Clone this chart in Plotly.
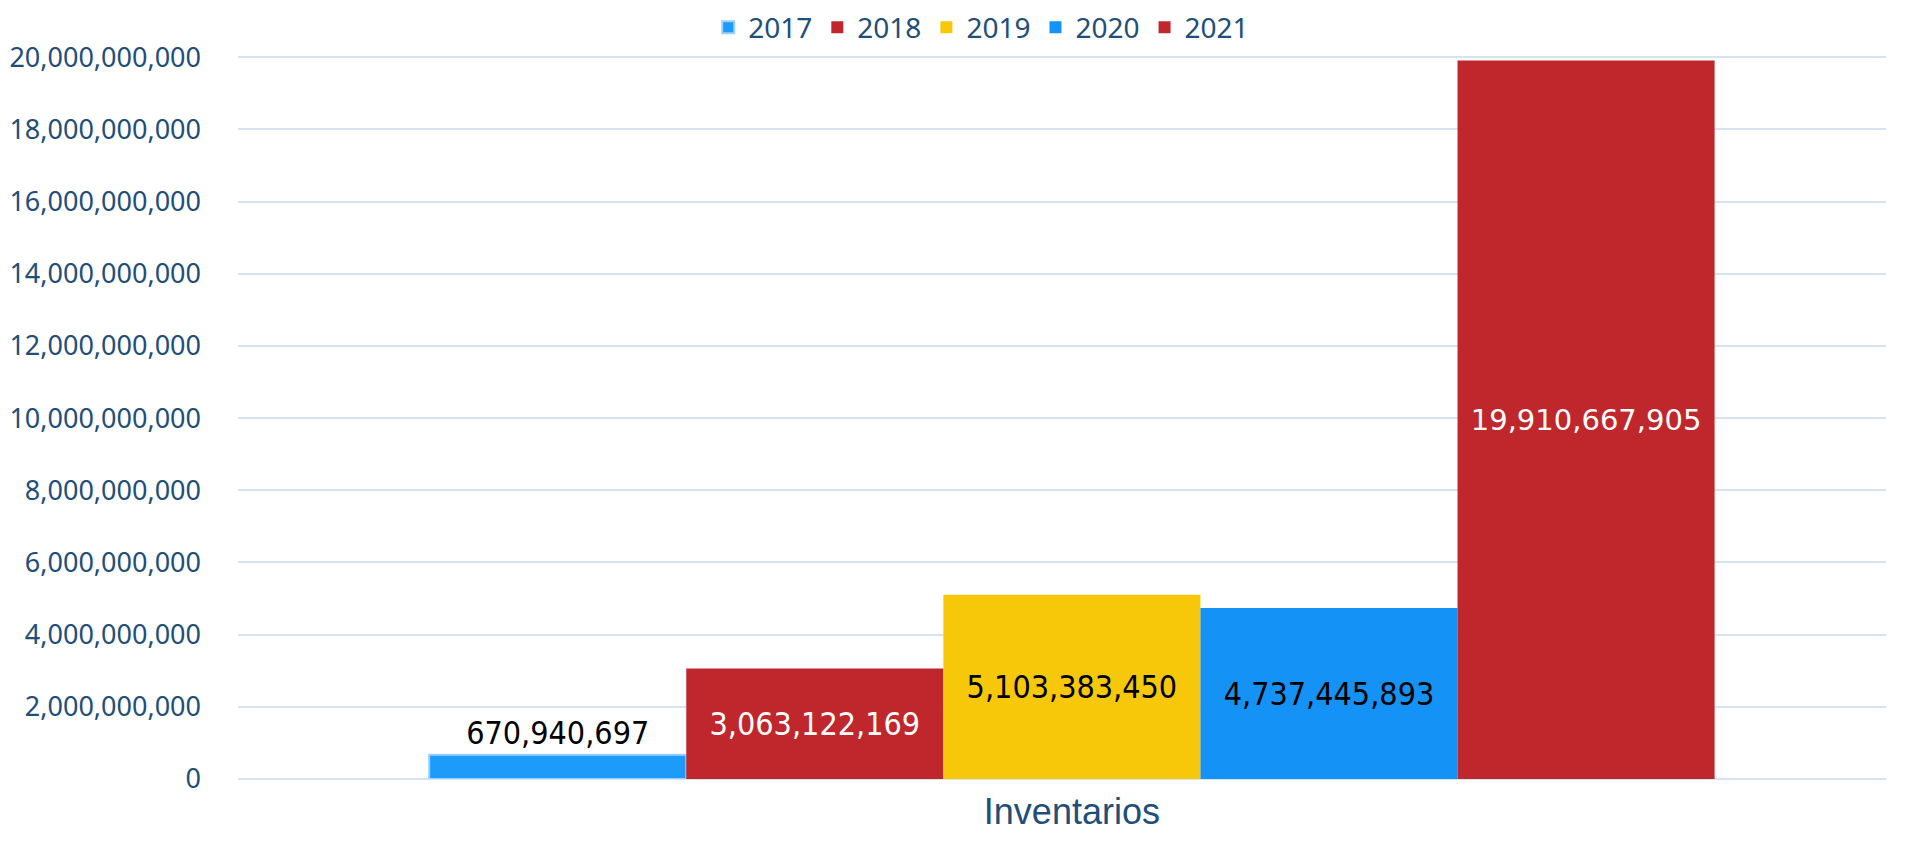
import plotly.graph_objects as go

# data
category = ["Inventarios"]
years = ["2017", "2018", "2019", "2020", "2021"]
values = [670940697, 3063122169, 5103383450, 4737445893, 19910667905]
colors = ["#1C9BFB", "#C0272D", "#F7C80A", "#1592F5", "#C0272D"]
text_colors = ["black", "white", "black", "black", "white"]
text_sizes = [32, 32, 32, 32, 29]

tick_vals = [i * 2000000000 for i in range(11)]

fig = go.Figure()
for i, yr in enumerate(years):
    fam = "DejaVu Sans, sans-serif" if i == 4 else "DejaVu Sans Condensed, sans-serif"
    fig.add_trace(go.Bar(
        x=category, y=[values[i]], name=yr,
        marker=dict(color=colors[i],
                    line=dict(color="#9CCFFB" if i == 0 else colors[i], width=2 if i == 0 else 0)),
        text=[f"{values[i]:,}"],
        textposition="outside" if i == 0 else "inside",
        insidetextanchor="middle",
        textangle=0,
        textfont=dict(color=text_colors[i], size=text_sizes[i], family=fam),
        cliponaxis=False,
    ))

fig.update_layout(
    barmode="group", bargap=0.22, bargroupgap=0,
    width=1914, height=841,
    plot_bgcolor="white", paper_bgcolor="white",
    margin=dict(l=230, r=36, t=47, b=70, autoexpand=False),
    font=dict(family="Noto Sans, DejaVu Sans, sans-serif", color="#1F4E79"),
    legend=dict(orientation="h", x=0.451, xanchor="center", y=1.038, yanchor="middle",
                font=dict(size=28, color="#1F4E79"), traceorder="normal"),
    showlegend=True,
)
fig.update_yaxes(range=[0, 20060000000], tickvals=tick_vals, tickformat=",d",
                 gridcolor="#D6E3F3", gridwidth=1.5, zeroline=True, zerolinecolor="#D6E3F3",
                 tickfont=dict(size=27, color="#1F4E79"), ticklabelstandoff=36, showline=False)
fig.update_xaxes(range=[-0.506, 0.494],
                 tickfont=dict(size=36, family="Liberation Sans, Arial, sans-serif", color="#1F4E79"),
                 showline=False, ticks="", ticklabelstandoff=8)

fig.write_html("out.html")
